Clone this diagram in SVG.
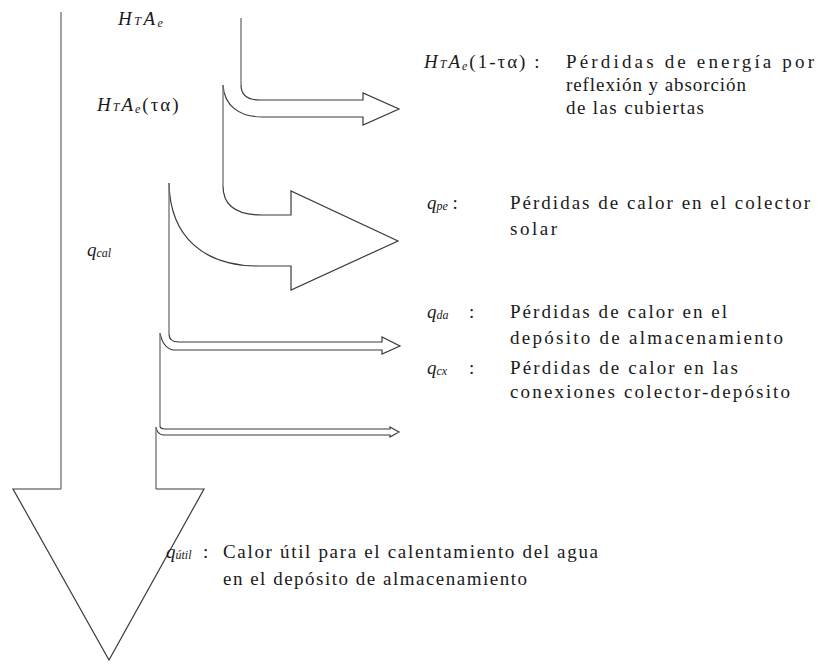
<svg xmlns="http://www.w3.org/2000/svg" width="826" height="664" viewBox="0 0 826 664">
<style>
.ln{fill:none;stroke:#3a3a3a;stroke-width:1.2;stroke-linejoin:miter}
.sh{fill:none;stroke:#7a7a7a;stroke-width:1.4}
.t{font-family:"Liberation Serif","Times New Roman",serif;font-size:19px;fill:#1a1a1a}
.i{font-style:italic}
.s{font-size:12px}
</style>
<rect width="826" height="664" fill="#ffffff"/>
<g id="connectors">
  <path class="sh" d="M241,18 L241,85"/>
  <path class="ln" d="M241,85 Q241,100 260,100 L363,100 L363,93 L399,109 L363,125 L363,117 L262,117 C240,117 224,106 223,85"/>
  <path class="sh" d="M223,85 L223,186"/>
  <path class="ln" d="M223,186 C223,205 236,215 262,215 L291,215 L291,191 L398,241 L291,290 L291,266 L258,266 C205,266 170,238 169,183"/>
  <path class="sh" d="M169,183 L169,334"/>
  <path class="ln" d="M169,334 Q169,342 179,342 L382,342 L382,337 L400,346 L382,354 L382,350 L173,350 Q163,348 160,333"/>
  <path class="sh" d="M160,333 L160,426"/>
  <path class="ln" d="M160,426 Q160,429 165,429 L390,429 L390,427 L399,432 L390,437 L390,435 L163,435 Q157,434 156,427"/>
  <path class="sh" d="M156,427 L156,489"/>
  <path class="ln" d="M156,489 L204,489 L109,660 L13,489 L61,489"/>
  <path class="sh" d="M61,489 L61,12"/>
</g>
<g id="node-HTAe">
  <text class="t i" x="118" y="25" font-size="21" letter-spacing="2.5"><tspan>H</tspan><tspan class="s">T</tspan><tspan>A</tspan><tspan class="s" dy="2">e</tspan></text>
</g>
<g id="node-HTAe-ta">
  <text class="t" x="97" y="111" font-size="21" letter-spacing="2"><tspan class="i">H</tspan><tspan class="i s">T</tspan><tspan class="i">A</tspan><tspan class="i s" dy="2">e</tspan><tspan dy="-2">(τα)</tspan></text>
</g>
<g id="node-loss-covers">
  <text class="t" x="424" y="68" letter-spacing="2"><tspan class="i">H</tspan><tspan class="i s">T</tspan><tspan class="i">A</tspan><tspan class="i s" dy="2">e</tspan><tspan dy="-2">(1-τα) :</tspan></text>
  <text class="t" x="566" y="68" textLength="248">Pérdidas de energía por</text>
  <text class="t" x="566" y="91" textLength="180">reflexión y absorción</text>
  <text class="t" x="566" y="114" textLength="138">de las cubiertas</text>
</g>
<g id="node-qpe">
  <text class="t" x="427" y="209"><tspan class="i">q</tspan><tspan class="i s" dy="1">pe</tspan><tspan dy="-1"> :</tspan></text>
  <text class="t" x="510" y="209" textLength="300">Pérdidas de calor en el colector</text>
  <text class="t" x="510" y="235" textLength="47">solar</text>
</g>
<g id="node-qcal">
  <text class="t" x="87" y="256"><tspan class="i">q</tspan><tspan class="i s" dy="1">cal</tspan></text>
</g>
<g id="node-qda">
  <text class="t" x="427" y="318"><tspan class="i">q</tspan><tspan class="i s" dy="1">da</tspan></text>
  <text class="t" x="469" y="318">:</text>
  <text class="t" x="510" y="318" textLength="217">Pérdidas de calor en el</text>
  <text class="t" x="510" y="344" textLength="273">depósito de almacenamiento</text>
</g>
<g id="node-qcx">
  <text class="t" x="427" y="374"><tspan class="i">q</tspan><tspan class="i s" dy="1">cx</tspan></text>
  <text class="t" x="469" y="374">:</text>
  <text class="t" x="510" y="374" textLength="228">Pérdidas de calor en las</text>
  <text class="t" x="510" y="398" textLength="280">conexiones colector-depósito</text>
</g>
<g id="node-qutil">
  <text class="t" x="166" y="558"><tspan class="i">q</tspan><tspan class="i s" dy="1">útil</tspan></text>
  <text class="t" x="203" y="558">:</text>
  <text class="t" x="223" y="558" textLength="375">Calor útil para el calentamiento del agua</text>
  <text class="t" x="223" y="585" textLength="304">en el depósito de almacenamiento</text>
</g>
</svg>
